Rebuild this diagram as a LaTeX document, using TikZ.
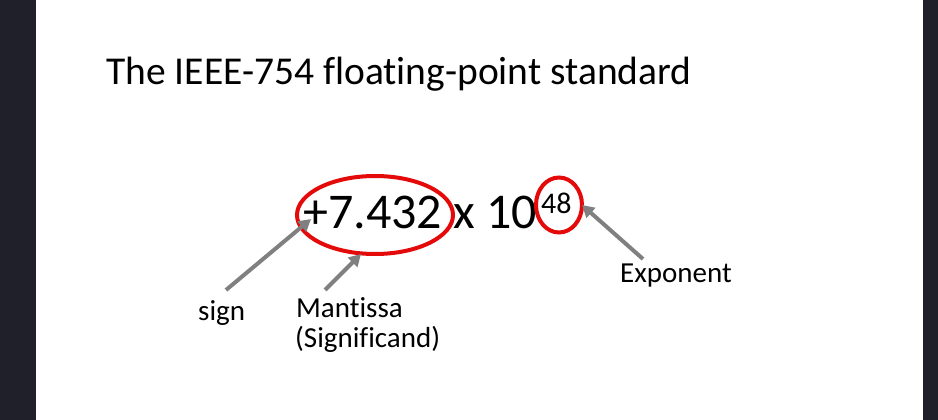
\documentclass[tikz,border=0pt]{standalone}
\usepackage{fontspec}
\setmainfont[Ligatures=NoCommon]{Carlito}
\usetikzlibrary{shapes.geometric,arrows.meta}
\definecolor{band}{HTML}{1F2029}
\definecolor{ringred}{RGB}{228,10,10}
\definecolor{arrowgray}{HTML}{808080}
\tikzset{
  lbl/.style={anchor=base west, inner sep=0pt, font=\fontsize{29}{30}\selectfont},
  ring/.style={ellipse, draw=ringred, line width=4pt, inner sep=0pt},
  pointer/.style={draw=arrowgray, line width=4pt, -{Triangle[length=12pt,width=13pt]}},
}
\begin{document}
\begin{tikzpicture}[x=1pt,y=-1pt]
\useasboundingbox (0,0) rectangle (938,420);
\fill[white] (0,0) rectangle (938,420);
\fill[band] (0,0) rectangle (35.5,420);
\fill[band] (923,0) rectangle (938,420);
\node[anchor=base west, inner sep=0pt, font=\fontsize{39.5}{42}\selectfont] (title) at (106,84.5) {The IEEE-754 floating-point standard};
\node[anchor=base west, inner sep=0pt, font=\fontsize{50}{52}\selectfont] (num) at (303,228) {+7.432 x 10};
\node[anchor=base west, inner sep=0pt, font=\fontsize{30}{31}\selectfont] (expo) at (541,213) {48};
\node[ring, minimum width=156, minimum height=78] (mantring) at (375,215) {};
\node[ring, minimum width=46, minimum height=55] (expring) at (559,205) {};
\node[lbl] (sign) at (198,320) {sign};
\node[lbl] (mant) at (296,317) {Mantissa};
\node[lbl] (signif) at (295,347) {(Significand)};
\node[lbl] (explbl) at (620,282) {Exponent};
\coordinate (signtail) at (226,290);
\coordinate (signtip) at (311,219);
\coordinate (manttail) at (325,290);
\coordinate (manttip) at (361,254);
\coordinate (exptail) at (643,259);
\coordinate (exptip) at (582,205);
\draw[pointer] (signtail) -- (signtip);
\draw[pointer] (manttail) -- (manttip);
\draw[pointer] (exptail) -- (exptip);
\end{tikzpicture}
\end{document}
